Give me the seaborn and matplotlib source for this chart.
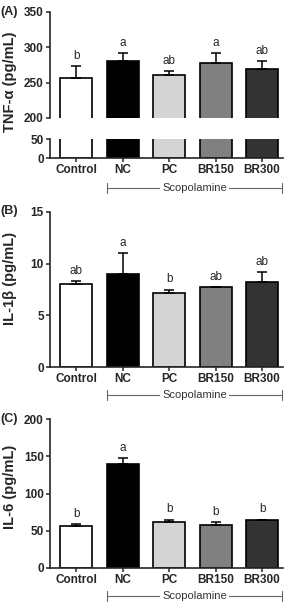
import numpy as np
import matplotlib
matplotlib.use("Agg")
import matplotlib.pyplot as plt
import matplotlib.transforms as mtransforms
import seaborn as sns

# groups and values
groups = ["Control", "NC", "PC", "BR150", "BR300"]
colors = ["#ffffff", "#000000", "#d4d4d4", "#808080", "#333333"]

tnf_mean = [257, 280, 261, 278, 270]
tnf_sem = [17, 12, 5, 14, 11]
tnf_letters = ["b", "a", "ab", "a", "ab"]

il1b_mean = [8.0, 9.0, 7.2, 7.7, 8.2]
il1b_sem = [0.3, 2.0, 0.3, 0.07, 1.0]
il1b_letters = ["ab", "a", "b", "ab", "ab"]

il6_mean = [57, 140, 62, 58, 64]
il6_sem = [2, 7, 3, 4, 1]
il6_letters = ["b", "a", "b", "b", "b"]

sns.set_style("ticks")
plt.rcParams["font.family"] = ["Liberation Sans", "DejaVu Sans"]

fig = plt.figure(figsize=(2.93, 6.08), dpi=100)
XL, XW = 50 / 293, 233 / 293
XLIM = (-0.56, 4.45)
TICK_FS = 8.5


def draw_bars(ax, mean, sem, letters=None):
    sns.barplot(x=groups, y=mean, hue=groups, palette=colors, edgecolor="black",
                linewidth=1.2, width=0.69, legend=False, ax=ax, errorbar=None)
    x = np.arange(len(groups))
    ax.errorbar(x, mean, yerr=[np.zeros(len(mean)), sem], fmt="none",
                ecolor="black", elinewidth=1.1, capsize=3.5, capthick=1.1)
    if letters:
        for xi, m, s, t in zip(x, mean, sem, letters):
            ax.annotate(t, (xi, m + s), xytext=(0, 3), textcoords="offset points",
                        ha="center", va="bottom", fontsize=8.5)
    ax.set_xlim(*XLIM)
    ax.tick_params(axis="both", length=3, width=1.1, labelsize=TICK_FS, pad=1.5)
    for sp in ["left", "bottom"]:
        ax.spines[sp].set_linewidth(1.2)
    sns.despine(ax=ax)


def bold_yticks(ax):
    for lab in ax.get_yticklabels():
        lab.set_fontweight("bold")


def bottom_labels(ax, ybr):
    ax.set_xticks(range(len(groups)))
    ax.set_xticklabels(groups, fontweight="bold", fontsize=TICK_FS)
    tr = mtransforms.blended_transform_factory(ax.transData, fig.transFigure)
    x0, x1 = 0.66, 4.43
    ax.plot([x0, x1], [ybr, ybr], color="#666666", lw=0.8, transform=tr, clip_on=False)
    for xe in (x0, x1):
        ax.plot([xe, xe], [ybr - 0.009, ybr + 0.009], color="#666666", lw=0.8,
                transform=tr, clip_on=False)
    ax.text((x0 + x1) / 2, ybr, "Scopolamine", ha="center", va="center", fontsize=8,
            color="#333333", transform=tr,
            bbox=dict(facecolor="white", edgecolor="none", pad=1.5))


# (A) TNF-alpha with broken axis
axA = fig.add_axes([XL, 1 - 118 / 608, XW, 106 / 608])
draw_bars(axA, tnf_mean, tnf_sem, tnf_letters)
axA.set_ylim(200, 350)
axA.set_yticks([200, 250, 300, 350])
bold_yticks(axA)
axA.spines["bottom"].set_visible(False)
axA.tick_params(axis="x", bottom=False, labelbottom=False)
axA.set_xlabel("")

axA2 = fig.add_axes([XL, 1 - 158 / 608, XW, 19 / 608])
draw_bars(axA2, tnf_mean, tnf_sem)
axA2.set_ylim(0, 50)
axA2.set_yticks([0, 50])
bold_yticks(axA2)
bottom_labels(axA2, 1 - 188 / 608)

# (B) IL-1beta
axB = fig.add_axes([XL, 1 - 367 / 608, XW, 155 / 608])
draw_bars(axB, il1b_mean, il1b_sem, il1b_letters)
axB.set_ylim(0, 15)
axB.set_yticks([0, 5, 10, 15])
bold_yticks(axB)
bottom_labels(axB, 1 - 395 / 608)

# (C) IL-6
axC = fig.add_axes([XL, 1 - 568 / 608, XW, 149 / 608])
draw_bars(axC, il6_mean, il6_sem, il6_letters)
axC.set_ylim(0, 200)
axC.set_yticks([0, 50, 100, 150, 200])
bold_yticks(axC)
bottom_labels(axC, 1 - 596 / 608)

# y labels and panel letters
ylab_kw = dict(rotation=90, ha="center", va="center", fontsize=10.5, fontweight="bold")
fig.text(0.035, 1 - 82 / 608, "TNF-α (pg/mL)", **ylab_kw)
fig.text(0.035, 1 - 278 / 608, "IL-1β (pg/mL)", **ylab_kw)
fig.text(0.035, 1 - 487 / 608, "IL-6 (pg/mL)", **ylab_kw)
panel_kw = dict(ha="left", va="center", fontsize=9, fontweight="bold")
fig.text(0.0, 1 - 12 / 608, "(A)", **panel_kw)
fig.text(0.0, 1 - 211 / 608, "(B)", **panel_kw)
fig.text(0.0, 1 - 419 / 608, "(C)", **panel_kw)

fig.savefig("out.png", dpi=100)
